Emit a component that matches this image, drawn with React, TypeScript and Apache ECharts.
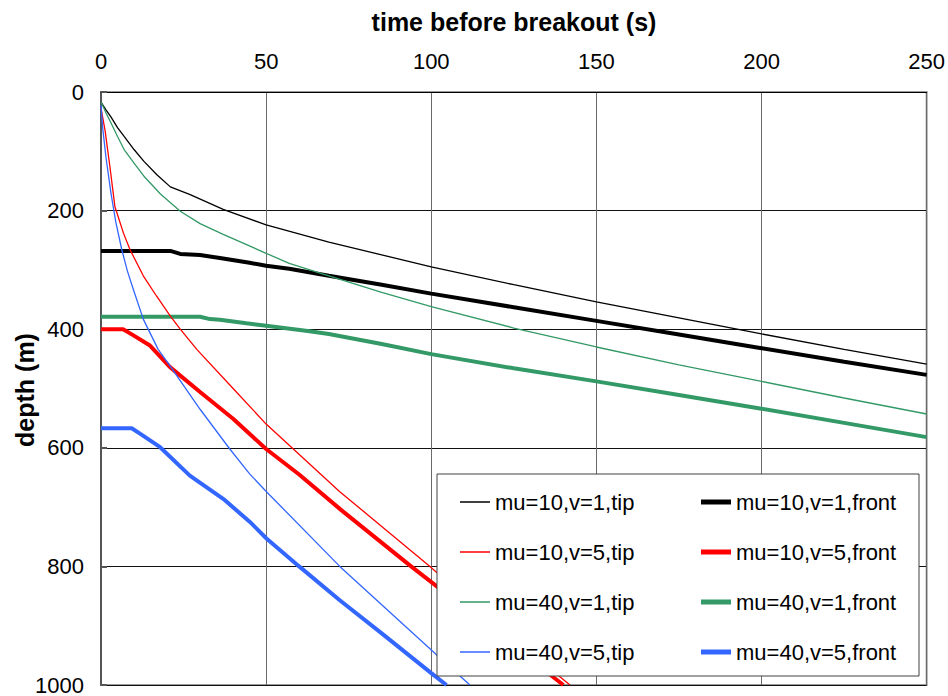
import React, { useEffect, useRef } from "react";
import * as echarts from "echarts";

// Axis ranges / ticks
const X_MIN = 0;
const X_MAX = 250;
const X_STEP = 50;
const Y_MIN = 0;
const Y_MAX = 1000;
const Y_STEP = 200;

const xTitle = "time before breakout (s)";
const yTitle = "depth (m)";

const tipNames = ["mu=10,v=1,tip", "mu=10,v=5,tip", "mu=40,v=1,tip", "mu=40,v=5,tip"];
const frontNames = ["mu=10,v=1,front", "mu=10,v=5,front", "mu=40,v=1,front", "mu=40,v=5,front"];

// mu=10, v=1
const tip10v1T = [0, 1.5, 3, 5, 7, 10, 13, 17, 21, 27, 37, 50, 69, 100, 125, 150, 175, 200, 225, 250];
const tip10v1D = [17, 30, 42, 60, 75, 97, 117, 140, 160, 173, 198, 224, 253, 295, 325, 354, 381, 408, 434, 459];
const front10v1T = [0, 21, 24, 30, 36, 45, 50, 57, 69, 85, 100, 125, 150, 175, 200, 225, 250];
const front10v1D = [268, 268, 273, 275, 280, 288, 293, 298, 310, 325, 340, 363, 386, 409, 432, 455, 477];

// mu=10, v=5
const tip10v5T = [0, 1.2, 2.7, 4.2, 6.8, 8.8, 12.8, 16.8, 21, 24, 29, 40, 50, 72.3, 99.6, 120, 142];
const tip10v5D = [27, 64, 126, 193, 238, 266, 310, 344, 378, 400, 434, 500, 560, 674, 800, 900, 1000];
const front10v5T = [0, 6.7, 9.7, 14.7, 20.9, 30, 40, 50, 60, 72.3, 93.9, 120, 140];
const front10v5D = [400, 400, 410, 427, 464, 506, 551, 602, 645, 703, 800, 913, 1000];

// mu=40, v=1
const tip40v1T = [0, 1.5, 3, 5, 7, 10, 13, 18, 24, 30, 37, 50, 57, 69, 85, 100, 125, 150, 175, 200, 225, 250];
const tip40v1D = [17, 35, 52, 75, 97, 120, 142, 172, 201, 222, 240, 272, 289, 310, 338, 362, 398, 430, 460, 488, 516, 543];
const front40v1T = [0, 30, 33, 36, 44, 50, 62.6, 69, 85, 100, 125, 150, 175, 200, 225, 250];
const front40v1D = [379, 379, 383, 384, 390, 394, 403, 408, 425, 442, 466, 488, 511, 534, 558, 582];

// mu=40, v=5
const tip40v5T = [0, 0.5, 1.5, 3, 4.5, 6.3, 8, 9.8, 12.8, 17.3, 20.9, 30, 39, 45, 50.1, 72.3, 100.6, 111.7];
const tip40v5D = [22, 60, 110, 170, 220, 266, 302, 333, 383, 434, 462, 535, 602, 644, 674, 800, 944, 1000];
const front40v5T = [0, 9.3, 11.8, 17.9, 26.9, 37, 45.1, 50.1, 60, 72.3, 85, 100, 104.6];
const front40v5D = [567, 567, 576, 599, 647, 686, 725, 753, 800, 857, 913, 980, 1000];

const colors = ["#000000", "#ff0000", "#339966", "#3366ff"];

const zip = (t: number[], d: number[]) => t.map((v, i) => [v, d[i]]);

const tipData = [zip(tip10v1T, tip10v1D), zip(tip10v5T, tip10v5D), zip(tip40v1T, tip40v1D), zip(tip40v5T, tip40v5D)];
const frontData = [
  zip(front10v1T, front10v1D),
  zip(front10v5T, front10v5D),
  zip(front40v1T, front40v1D),
  zip(front40v5T, front40v5D),
];

const FONT = "'Liberation Sans', Arial, sans-serif";

export default function App() {
  const ref = useRef<HTMLDivElement>(null);

  useEffect(() => {
    if (!ref.current) return;
    const chart = echarts.init(ref.current, undefined, { renderer: "svg" });

    const series: any[] = [];
    tipNames.forEach((name, i) => {
      series.push({
        name,
        type: "line",
        data: tipData[i],
        symbol: "none",
        smooth: false,
        lineStyle: { color: colors[i], width: 1.3 },
        itemStyle: { color: colors[i] },
        z: 3,
      });
    });
    frontNames.forEach((name, i) => {
      series.push({
        name,
        type: "line",
        data: frontData[i],
        symbol: "none",
        lineStyle: { color: colors[i], width: 4 },
        itemStyle: { color: colors[i] },
        z: 2,
      });
    });

    const legendCommon = {
      orient: "vertical",
      top: 490,
      padding: 0,
      itemWidth: 30,
      itemGap: 26,
      icon: "rect",
      z: 100,
      itemStyle: { borderWidth: 0 },
      textStyle: { fontFamily: FONT, fontSize: 22, color: "#000", lineHeight: 24 },
      selectedMode: false,
    };

    chart.setOption({
      animation: false,
      backgroundColor: "#ffffff",
      textStyle: { fontFamily: FONT },
      grid: {
        left: 101,
        top: 92,
        right: 21,
        bottom: 9,
        show: true,
        borderColor: "#9a9a9a",
        borderWidth: 2,
        containLabel: false,
      },
      xAxis: {
        type: "value",
        position: "top",
        min: X_MIN,
        max: X_MAX,
        interval: X_STEP,
        axisLine: { show: true, lineStyle: { color: "#000", width: 1 } },
        axisTick: { show: false },
        axisLabel: { fontFamily: FONT, fontSize: 22, color: "#000", margin: 20 },
        splitLine: { show: true, lineStyle: { color: "#6a6a6a", width: 1 } },
      },
      yAxis: {
        type: "value",
        inverse: true,
        min: Y_MIN,
        max: Y_MAX,
        interval: Y_STEP,
        axisLine: { show: true, lineStyle: { color: "#555", width: 2 } },
        axisTick: { show: true, inside: true, length: 6, lineStyle: { color: "#555", width: 2 } },
        axisLabel: {
          fontFamily: FONT,
          fontSize: 22,
          color: "#000",
          margin: 17,
          formatter: (v: number) => String(v),
        },
        splitLine: { show: true, lineStyle: { color: "#111", width: 1 } },
      },
      legend: [
        { ...legendCommon, left: 460, itemHeight: 1.5, data: tipNames },
        { ...legendCommon, left: 701, itemHeight: 5, data: frontNames },
      ],
      graphic: [
        {
          type: "rect",
          shape: { x: 437, y: 474, width: 482, height: 202 },
          style: { fill: "#ffffff", stroke: "#404040", lineWidth: 1 },
          z: 50,
        },
        {
          type: "text",
          x: 514,
          y: 22,
          style: {
            text: xTitle,
            fontFamily: FONT,
            fontSize: 25,
            fontWeight: "bold",
            fill: "#000",
            align: "center",
            verticalAlign: "middle",
          },
          z: 50,
        },
        {
          type: "text",
          x: 25,
          y: 390,
          rotation: Math.PI / 2,
          style: {
            text: yTitle,
            fontFamily: FONT,
            fontSize: 25,
            fontWeight: "bold",
            fill: "#000",
            align: "center",
            verticalAlign: "middle",
          },
          z: 50,
        },
      ],
      series,
    });

    return () => chart.dispose();
  }, []);

  return <div ref={ref} style={{ width: 948, height: 696, position: "absolute", left: 0, top: 0 }} />;
}
